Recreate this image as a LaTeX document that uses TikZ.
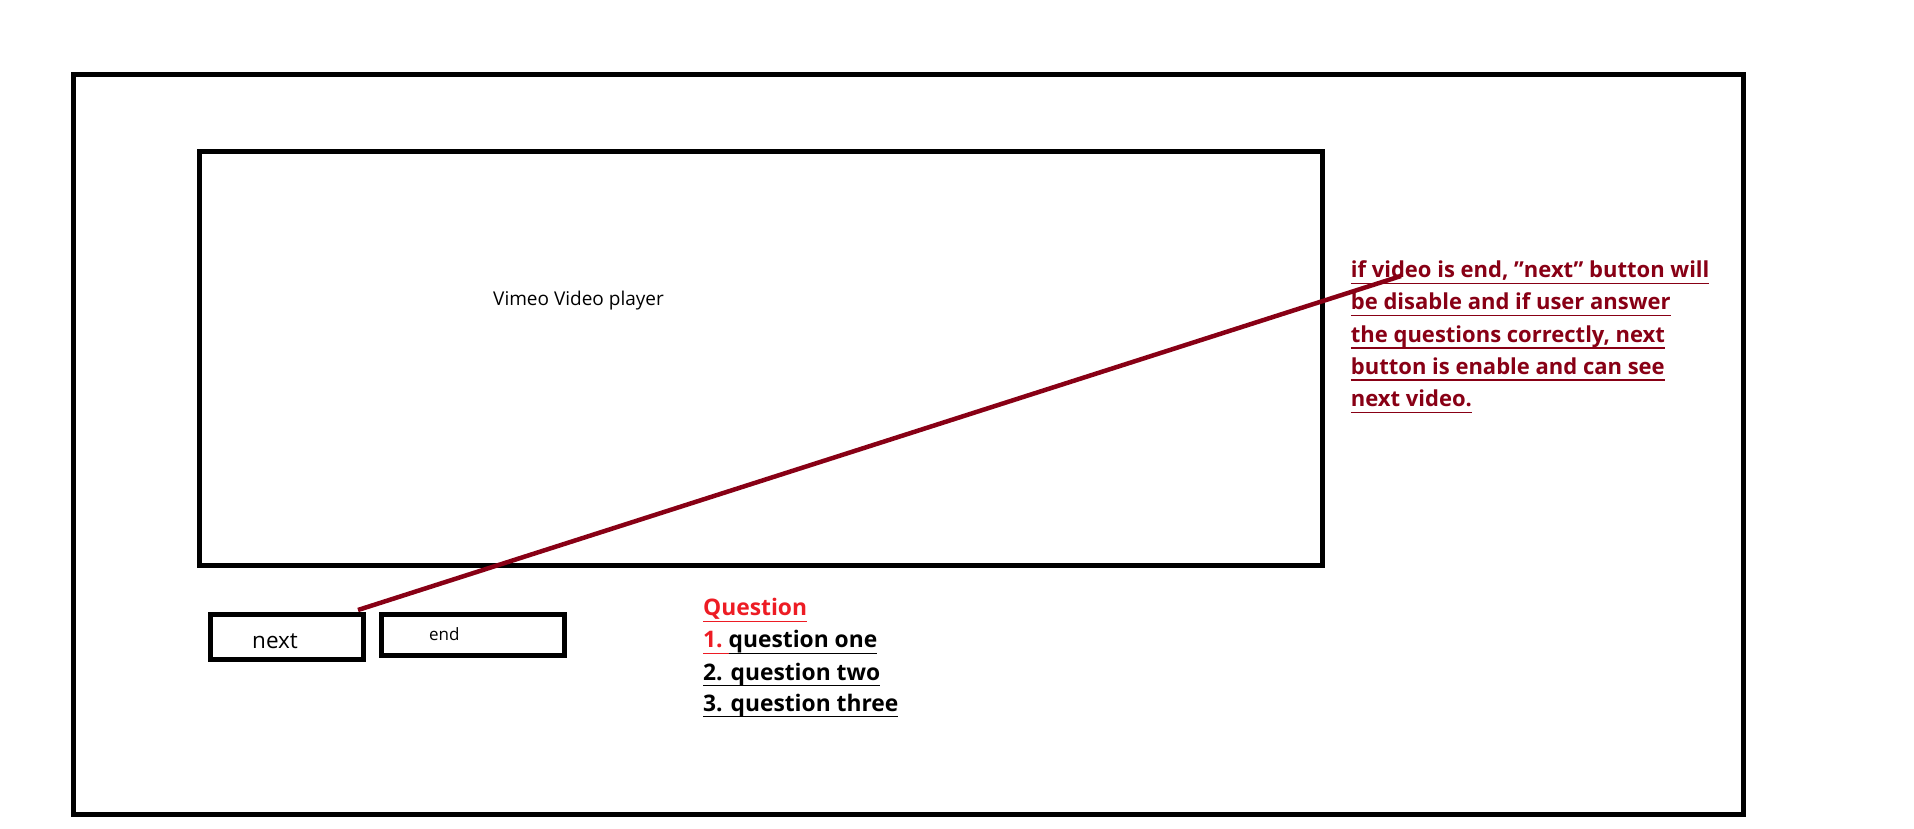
\documentclass[tikz,border=0pt]{standalone}
\usepackage{fontspec}
\setmainfont{Open Sans}
\usetikzlibrary{positioning}
\definecolor{paintdarkred}{HTML}{880015}
\definecolor{paintred}{HTML}{ED1C24}
% underline at a fixed depth below the baseline
\newcommand{\lineul}[1]{\setbox0\hbox{#1}\rlap{\raisebox{-6.4pt}{\rule{\wd0}{1.6pt}}}\box0}
\tikzset{
  box/.style={draw, line width=5pt, inner sep=0pt, outer sep=0pt},
  notetext/.style={anchor=base west, inner sep=0pt, text=paintdarkred,
    font=\bfseries\fontsize{22}{22}\selectfont},
  qtext/.style={anchor=base west, inner sep=0pt,
    font=\bfseries\fontsize{22.8}{22.8}\selectfont}
}

\begin{document}
\begin{tikzpicture}[x=1pt, y=-1pt]
            \useasboundingbox (0,0) rectangle (1914,829);

            % Page frame and video player
            \node[box, minimum width=1670pt, minimum height=740pt] (frame) at (908.5,444.5) {};
            \node[box, minimum width=1123pt, minimum height=413.5pt] (player) at (761,358.25) {};
            \node[anchor=base west, inner sep=0pt, font=\fontsize{19}{19}\selectfont] (playerlabel) at (493,305) {Vimeo Video player};

            % Buttons
            \node[box, minimum width=153pt, minimum height=45pt] (nextbtn) at (286.5,636.5) {};
            \node[box, minimum width=182.5pt, minimum height=41pt] (endbtn) at (472.75,634.5) {};
            \node[anchor=base west, inner sep=0pt, font=\fontsize{22.5}{22.5}\selectfont] (nextlabel) at (252,648) {next};
            \node[anchor=base west, inner sep=0pt, font=\fontsize{17}{17}\selectfont] (endlabel) at (429,640) {end};

            % Questions
            \node[qtext, text=paintred] (qhead) at (703,615.7) {\lineul{Question}};
            \node[qtext] (q1) at (703,647.7) {{\color{paintred}\lineul{1.\ }}\lineul{question one}};
            \node[qtext] (q2) at (703,680) {\lineul{2. question two}};
            \node[qtext] (q3) at (703,711) {\lineul{3. question three}};

            % Note on the next button
            \foreach \txt [count=\i from 0] in {{if video is end, "next" button will}, {be disable and if user answer}, {the questions correctly, next}, {button is enable and can see}, {next video.}}
                \node[notetext] (note\i) at (1350.7,277.7+32.25*\i) {\lineul{\txt}};

            \coordinate (noteend) at (1401,276);
            \draw[paintdarkred, line width=4.5pt] ([xshift=-5pt,yshift=4pt]nextbtn.north east) -- (noteend);
\end{tikzpicture}
\end{document}
